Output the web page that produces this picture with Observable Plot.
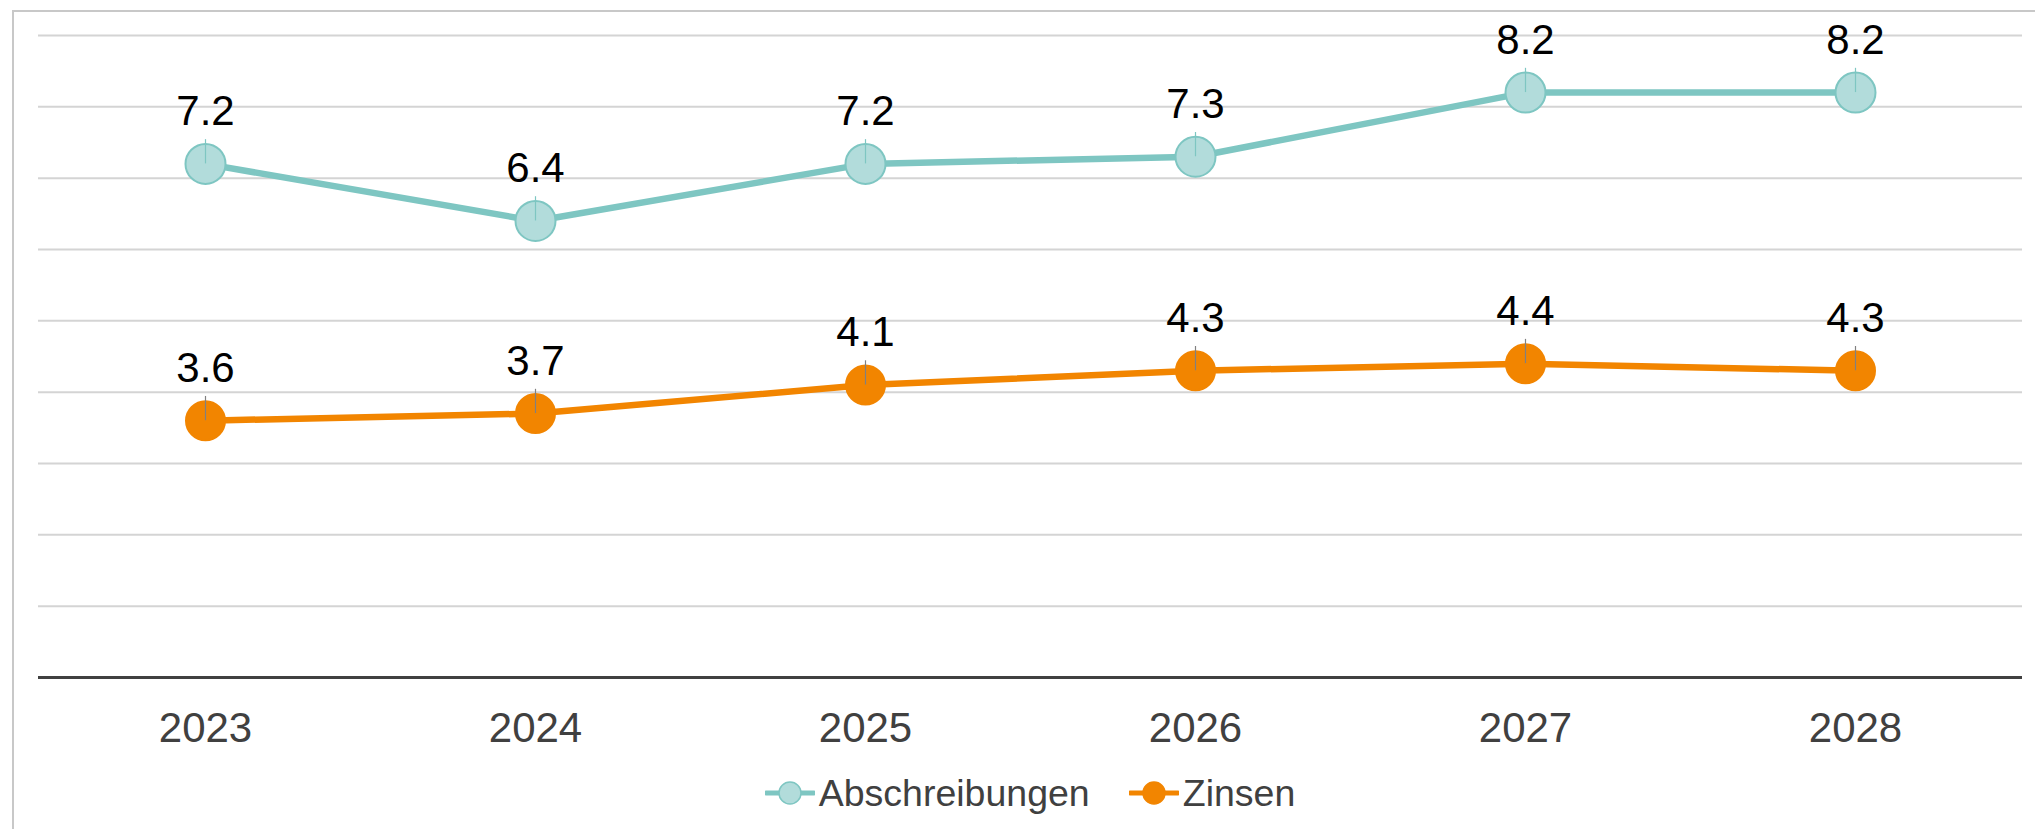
<!DOCTYPE html>
<html>
<head>
<meta charset="utf-8">
<script src="https://cdn.jsdelivr.net/npm/d3@7"></script>
<script src="https://cdn.jsdelivr.net/npm/@observablehq/plot@0.6"></script>
<style>
  html, body { margin: 0; padding: 0; background: #fff; }
  #wrap { position: relative; width: 2035px; height: 829px; overflow: hidden; font-family: "Liberation Sans", Arial, sans-serif; }
  #frame { position: absolute; left: 12px; top: 10px; right: -4px; bottom: -4px; border-top: 2px solid #c8c8c8; border-left: 2px solid #c8c8c8; pointer-events: none; }
  #chart { position: absolute; left: 0; top: 0; }
  #legend { position: absolute; left: 38px; top: 770px; width: 1984px; height: 46px; display: flex; justify-content: center; align-items: center; gap: 39px; font-size: 37.5px; color: #404040; }
  .item { display: flex; align-items: center; gap: 4px; }
</style>
</head>
<body>
<div id="wrap">
  <div id="chart"></div>
  <div id="frame"></div>
  <div id="legend"></div>
</div>
<script>
const years = ["2023", "2024", "2025", "2026", "2027", "2028"];
const seriesNames = ["Abschreibungen", "Zinsen"];
const abschreibungen = [7.2, 6.4, 7.2, 7.3, 8.2, 8.2];
const zinsen = [3.6, 3.7, 4.1, 4.3, 4.4, 4.3];
const gridTicks = [1, 2, 3, 4, 5, 6, 7, 8, 9];

const colors = {
  Abschreibungen: {line: "#7ec6c2", fill: "#b2dcdb", leader: "#7ec6c2"},
  Zinsen: {line: "#f28500", fill: "#f28500", leader: "#808080"}
};

const data = [
  ...years.map((y, i) => ({year: y, value: abschreibungen[i], series: seriesNames[0]})),
  ...years.map((y, i) => ({year: y, value: zinsen[i], series: seriesNames[1]}))
];

const marks = [
  Plot.ruleY(gridTicks, {stroke: "#d4d4d4", strokeWidth: 2}),
  Plot.ruleY([0], {stroke: "#404040", strokeWidth: 3}),
  Plot.axisX({tickSize: 0, tickPadding: 35, fontSize: 42, fill: "#404040", tickFormat: d => d, label: null}),
];
for (const s of seriesNames) {
  const rows = data.filter(d => d.series === s);
  const c = colors[s];
  marks.push(Plot.line(rows, {x: "year", y: "value", stroke: c.line, strokeWidth: 6.5, strokeLinejoin: "round"}));
  marks.push(Plot.dot(rows, {x: "year", y: "value", r: s === "Zinsen" ? 19.5 : 20, fill: c.fill, stroke: c.line, strokeWidth: 2}));
  marks.push(Plot.ruleX(rows, {x: "year", y1: "value", y2: d => d.value + 0.34, stroke: c.leader, strokeWidth: 1.2}));
  marks.push(Plot.text(rows, {x: "year", y: "value", text: d => d.value.toFixed(1), dy: -52, lineAnchor: "middle", fontSize: 42, fill: "#000"}));
}

const chart = Plot.plot({
  width: 2035,
  height: 770,
  marginLeft: 38,
  marginRight: 13,
  marginTop: 35,
  marginBottom: 93,
  style: {fontFamily: "Liberation Sans, Arial, sans-serif", background: "transparent", overflow: "visible"},
  x: {type: "point", domain: years, padding: 0.5, axis: null},
  y: {domain: [0, 9], axis: null},
  marks
});
document.getElementById("chart").appendChild(chart);

const legend = document.getElementById("legend");
for (const s of seriesNames) {
  const c = colors[s];
  const item = document.createElement("div");
  item.className = "item";
  item.innerHTML = `<svg width="50" height="26"><line x1="1" x2="49" y1="13" y2="13" stroke="${c.line}" stroke-width="5" stroke-linecap="round"/><circle cx="25" cy="13" r="11" fill="${c.fill}" stroke="${c.line}" stroke-width="1.5"/></svg><span>${s}</span>`;
  legend.appendChild(item);
}
</script>
</body>
</html>
